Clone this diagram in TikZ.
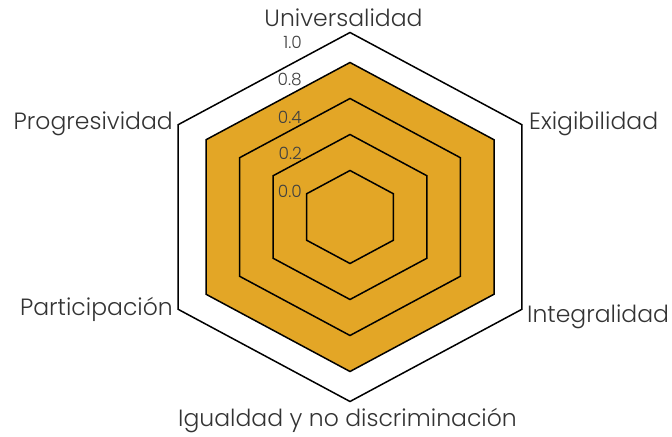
\documentclass[tikz,border=0pt]{standalone}
\usepackage{fontspec}
\setmainfont{Poppins Light}
\definecolor{fillorange}{RGB}{227,166,38}
\definecolor{labelgray}{RGB}{51,51,51}
\definecolor{tickgray}{RGB}{64,64,64}
\newcommand{\hexpath}[1]{(350,-217+#1) -- (350+0.932*#1,-217+0.5*#1) -- (350+0.932*#1,-217-0.5*#1) -- (350,-217-#1) -- (350-0.932*#1,-217-0.5*#1) -- (350-0.932*#1,-217+0.5*#1) -- cycle}
\begin{document}
\begin{tikzpicture}[x=1bp,y=1bp,
  gridline/.style={draw=black,line width=1.5bp,line join=miter},
  axislabel/.style={font=\fontsize{23.6}{28}\selectfont,text=labelgray,inner sep=0pt},
  ticklabel/.style={font=\fontsize{17}{19}\selectfont,text=tickgray,inner sep=0pt,anchor=east}]
\useasboundingbox (0,0) rectangle (672,-437);
\path[gridline,fill=white] \hexpath{184.5};
\path[gridline,fill=fillorange] \hexpath{154.5};
\path[gridline] \hexpath{118.5};
\path[gridline] \hexpath{82.5};
\path[gridline] \hexpath{46.5};
\node[ticklabel] (t10) at (302,-42.5) {1.0};
\node[ticklabel] (t08) at (302,-80) {0.8};
\node[ticklabel] (t04) at (302,-117) {0.4};
\node[ticklabel] (t02) at (302,-153) {0.2};
\node[ticklabel] (t00) at (302,-191.7) {0.0};
\node[axislabel,anchor=base] (uni) at (343.5,-26.7) {Universalidad};
\node[axislabel,anchor=base west] (exi) at (529,-130) {Exigibilidad};
\node[axislabel,anchor=base west] (inte) at (527,-322.3) {Integralidad};
\node[axislabel,anchor=base] (igu) at (347.5,-426.7) {Igualdad y no discriminación};
\node[axislabel,anchor=base east] (par) at (173,-316) {Participación};
\node[axislabel,anchor=base east] (pro) at (173,-129.3) {Progresividad};
\end{tikzpicture}
\end{document}
